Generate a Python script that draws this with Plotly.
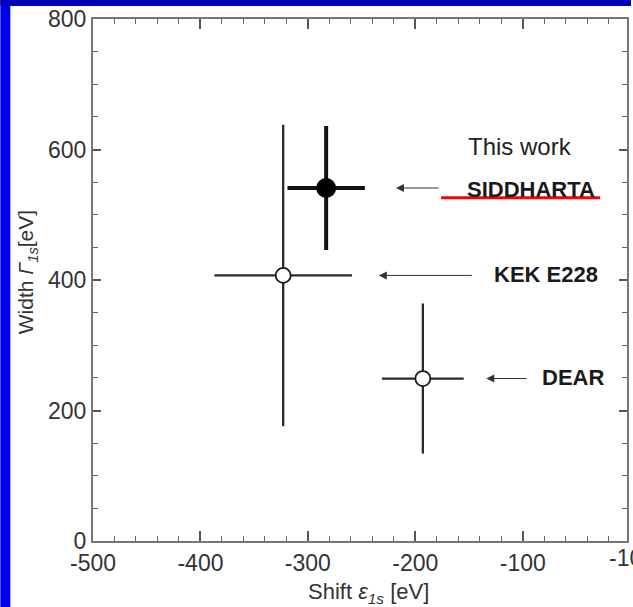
import plotly.graph_objects as go

# ---- data ----
experiments = ["SIDDHARTA", "KEK E228", "DEAR"]
shift = [-283, -323, -193]
shift_err = [36, 64, 38]
width = [541, 407, 249]
width_err = [95, 231, 115]
filled = [True, False, False]

x_ticks = [-500, -400, -300, -200, -100]
x_ticktext = ["-500", "-400", "-300", "-200", "-100"]
y_ticks = [0, 200, 400, 600, 800]
y_ticktext = ["0", "200", "400", "600", "800"]

# label / arrow layout (data coordinates)
label_x = [-92, -78, -53]
label_y = [539, 408, 250]
arrow_tail_x = [-177, -146, -95]
arrow_head_x = [-218, -234, -134]

FONT = "Liberation Sans, Arial, Helvetica, sans-serif"

fig = go.Figure()
for i, name in enumerate(experiments):
    is_f = filled[i]
    lw = 4 if is_f else 2.3
    col = "#111" if is_f else "#2a2a2a"
    fig.add_trace(go.Scatter(
        x=[shift[i]], y=[width[i]], mode="markers", name=name,
        error_x=dict(type="data", array=[shift_err[i]], width=0, thickness=lw, color=col),
        error_y=dict(type="data", array=[width_err[i]], width=0, thickness=lw, color=col),
        marker=dict(size=20 if is_f else 15, color="black" if is_f else "white",
                    line=dict(color="#1a1a1a", width=0 if is_f else 1.8)),
        showlegend=False,
    ))

annotations = []
for i, name in enumerate(experiments):
    annotations.append(dict(x=label_x[i], y=label_y[i], xref="x", yref="y", text="<b>%s</b>" % name,
                            showarrow=False, font=dict(family=FONT, size=22, color="#1a1a1a"),
                            xanchor="center", yanchor="middle"))
    annotations.append(dict(x=arrow_head_x[i], y=width[i], ax=arrow_tail_x[i], ay=width[i],
                            xref="x", yref="y", axref="x", ayref="y", text="",
                            showarrow=True, arrowhead=2, arrowsize=1.6, arrowwidth=1, arrowcolor="#333"))

annotations.append(dict(x=-103, y=604, xref="x", yref="y", text="This work", showarrow=False,
                        font=dict(family=FONT, size=24, color="#222"), xanchor="center", yanchor="middle"))
# cut-off tick label at the right edge
annotations.append(dict(x=(634 - 93) / 536, y=(541 - 558) / 522, xref="paper", yref="paper", text="-100",
                        showarrow=False, font=dict(family=FONT, size=23, color="#333"),
                        xanchor="center", yanchor="middle"))
# axis titles
annotations.append(dict(x=(370 - 93) / 536, y=(541 - 593) / 522, xref="paper", yref="paper",
                        text="Shift <i>ε</i><sub><i>1s</i></sub> [eV]", showarrow=False,
                        font=dict(family=FONT, size=22, color="#333"), xanchor="center", yanchor="middle"))
annotations.append(dict(x=(27 - 93) / 536, y=(541 - 272) / 522, xref="paper", yref="paper",
                        text="Width <i>Γ</i><sub><i>1s</i></sub>[eV]", showarrow=False, textangle=-90,
                        font=dict(family=FONT, size=21, color="#333"), xanchor="center", yanchor="middle"))

shapes = [
    # blue frame
    dict(type="rect", xref="paper", yref="paper", x0=(0 - 93) / 536, x1=(10 - 93) / 536,
         y0=(541 - 607) / 522, y1=(541 - 0) / 522, fillcolor="#0000F0", line=dict(width=0), layer="below"),
    dict(type="rect", xref="paper", yref="paper", x0=(0 - 93) / 536, x1=(633 - 93) / 536,
         y0=(541 - 6) / 522, y1=(541 - 0) / 522, fillcolor="#0000B8", line=dict(width=0), layer="below"),
    # red underline
    dict(type="line", xref="x", yref="y", x0=-176, x1=-28, y0=526, y1=526,
         line=dict(color="#FF0000", width=3)),
]

fig.update_layout(
    width=633, height=607,
    margin=dict(l=93, r=4, t=19, b=66),
    paper_bgcolor="white", plot_bgcolor="white",
    font=dict(family=FONT, color="#333"),
    annotations=annotations, shapes=shapes,
)
fig.update_xaxes(range=[-500, -3], tickvals=x_ticks, ticktext=x_ticktext, ticks="inside", ticklen=10,
                 tickwidth=1.5, tickcolor="#555", showline=True, linecolor="#777", linewidth=2, mirror="ticks",
                 showgrid=False, zeroline=False, tickfont=dict(family=FONT, size=23, color="#333"),
                 minor=dict(dtick=20, ticks="inside", ticklen=5, tickcolor="#666", tickwidth=1, showgrid=False))
fig.update_yaxes(range=[0, 800], tickvals=y_ticks, ticktext=y_ticktext, ticks="inside", ticklen=8,
                 tickwidth=1.5, tickcolor="#555", showline=True, linecolor="#777", linewidth=2, mirror="ticks",
                 showgrid=False, zeroline=False, tickfont=dict(family=FONT, size=23, color="#333"),
                 minor=dict(dtick=50, ticks="inside", ticklen=5, tickcolor="#666", tickwidth=1, showgrid=False))

fig.write_html("out.html")
